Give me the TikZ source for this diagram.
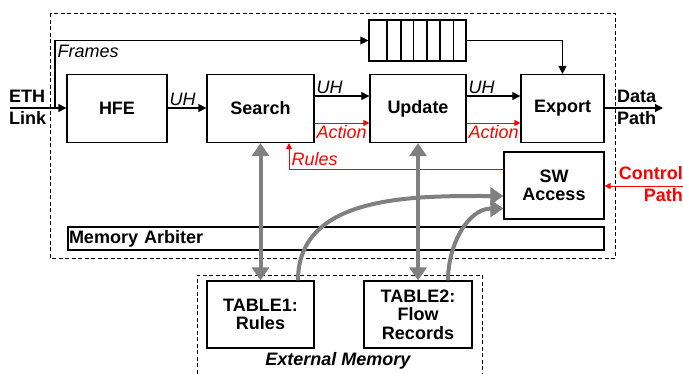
\documentclass[tikz,border=0pt]{standalone}
\usepackage{fontspec}
\setmainfont{Liberation Sans}
\usetikzlibrary{arrows.meta}
\definecolor{arbgray}{HTML}{808080}
\tikzset{
  blk/.style={draw, line width=1.2pt, align=center, inner sep=0pt,
    font=\bfseries\fontsize{18}{18.5}\selectfont},
  lbl/.style={font=\itshape\fontsize{18}{20}\selectfont, inner sep=1.5pt},
  side/.style={font=\bfseries\fontsize{18}{22}\selectfont, inner sep=0pt},
  arr/.style={line width=1.1pt, -{Triangle[length=8pt,width=8pt]}},
  redarr/.style={red, line width=1pt, -{Triangle[length=6pt,width=6pt]}},
  grayarr/.style={arbgray, line width=4pt, -{Triangle[length=13pt,width=17pt]}},
  grayboth/.style={arbgray, line width=4pt, {Triangle[length=13pt,width=17pt]}-{Triangle[length=13pt,width=17pt]}},
  box/.style={dashed, line width=0.8pt, dash pattern=on 4pt off 2.5pt}
}
\begin{document}
\begin{tikzpicture}[x=1pt,y=-1pt]
        \useasboundingbox (0,0) rectangle (683,373);
        \draw[box] (50,13) rectangle (615,258);
        \draw[box] (197,380) -- (197,275) -- (482,275) -- (482,380);

        \node (hfe) [blk, minimum width=100, minimum height=68] at (117,108.5) {HFE};
        \node (search) [blk, minimum width=107, minimum height=68] at (260.5,108.5) {Search};
        \node (update) [blk, minimum width=96, minimum height=68] at (418,108.5) {Update};
        \node (export) [blk, minimum width=83, minimum height=68] at (562.5,108.5) {Export};
        \node (swa) [blk, minimum width=100, minimum height=67] at (554,185.5) {SW\\Access};
        \node (queue) [blk, minimum width=97, minimum height=41] at (417.5,40.5) {};
        \foreach \x in {387,401,413.5,427,440,453.5}
            \draw[line width=1.2pt] (\x,20) -- (\x,61);
        \node (arb) [blk, minimum width=536, minimum height=23, text width=534, align=left, inner xsep=1pt] at (336,238.5) {Memory Arbiter};
        \node (table1) [blk, minimum width=107, minimum height=67] at (260.5,314.5) {TABLE1:\\Rules};
        \node (table2) [blk, minimum width=108, minimum height=67] at (418,314.5) {TABLE2:\\Flow\\Records};
        \node (extmem) [font=\bfseries\itshape\fontsize{18}{20}\selectfont] at (338,361) {External Memory};

        \node (eth) [side, anchor=west, align=left] at (9,107.5) {ETH\\Link};
        \node (data) [side, anchor=west, align=left] at (617,107.5) {Data\\Path};
        \node (ctl) [side, red, anchor=east, align=right] at (683,184) {Control\\Path};

        \coordinate (ethin) at (10,108);
        \coordinate (tap) at (55,108);
        \coordinate (uhy) at (0,96);
        \coordinate (acty) at (0,123);
        \coordinate (rulesx) at (289,169);
        \coordinate (ctlin) at (683,186);
        \coordinate (dataout) at (663,108);

        \draw[arr] (ethin) -- (ethin -| hfe.west);
        \draw[arr] (tap) |- (queue.west);
        \node (frames) [lbl, anchor=west] at (56,51) {Frames};
        \draw[arr] (queue.east) -| (export.north);
        \draw[arr] (hfe.east |- ethin) -- node (uh1) [lbl, pos=0, anchor=south west] {UH} (search.west |- ethin);
        \draw[arr] (search.east |- uhy) -- node (uh2) [lbl, pos=0, anchor=south west] {UH} (update.west |- uhy);
        \draw[arr] (update.east |- uhy) -- node (uh3) [lbl, pos=0, anchor=south west] {UH} (export.west |- uhy);
        \draw[arr] (export.east |- dataout) -- (dataout);

        \draw[redarr] (search.east |- acty) -- node (act1) [lbl, red, pos=0, anchor=north west] {Action} (update.west |- acty);
        \draw[redarr] (update.east |- acty) -- node (act2) [lbl, red, pos=0, anchor=north west] {Action} (export.west |- acty);
        \draw[redarr] (swa.west |- rulesx) -| (rulesx |- search.south);
        \node (rules) [lbl, red, anchor=west] at (290,159) {Rules};
        \draw[redarr] (ctlin) -- (swa.east |- ctlin);

        \draw[grayboth] (search.south) -- (table1.north);
        \draw[grayboth] (update.south) -- (table2.north);
        \draw[grayarr] ([xshift=37.5pt]table1.north) to[out=90,in=180] ([yshift=-10.5pt]swa.west);
        \draw[grayarr] ([xshift=30pt]table2.north) to[out=90,in=180] ([yshift=-23pt]swa.west);
\end{tikzpicture}
\end{document}
